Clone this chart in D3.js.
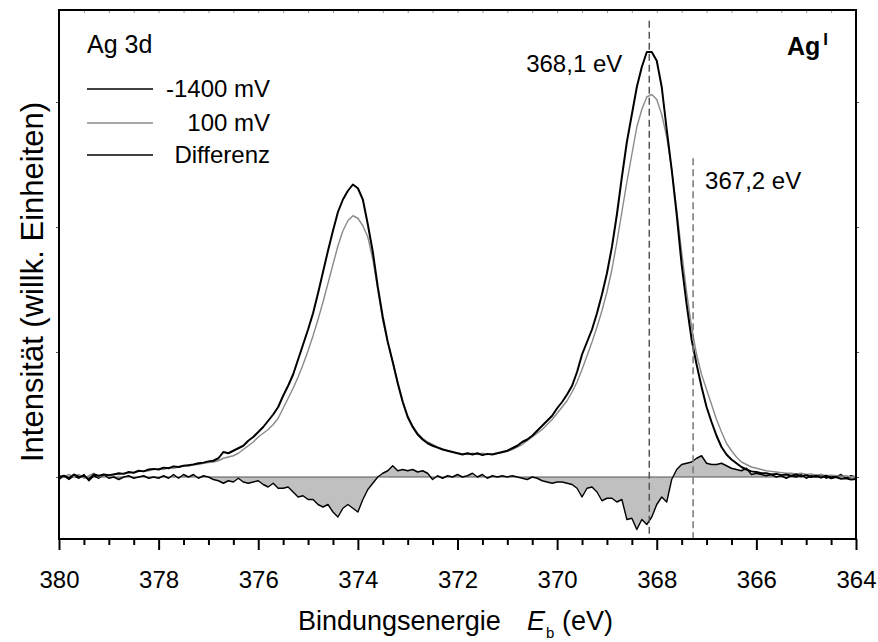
<!DOCTYPE html>
<html><head><meta charset="utf-8">
<script src="https://cdn.jsdelivr.net/npm/d3@7"></script>
<style>
html,body{margin:0;padding:0;background:#fff;}
text{font-family:"Liberation Sans",Arial,Helvetica,sans-serif;fill:#000;}
</style></head>
<body>
<svg id="chart" width="878" height="642"></svg>
<script>
// ---- data (binding energy in eV, intensity in arbitrary units) ----
const energies = [380.0,379.9,379.8,379.7,379.6,379.5,379.4,379.3,379.2,379.1,379.0,378.9,378.8,378.7,378.6,378.5,378.4,378.3,378.2,378.1,378.0,377.9,377.8,377.7,377.6,377.5,377.4,377.3,377.2,377.1,377.0,376.9,376.8,376.7,376.6,376.5,376.4,376.3,376.2,376.1,376.0,375.9,375.8,375.7,375.6,375.5,375.4,375.3,375.2,375.1,375.0,374.9,374.8,374.7,374.6,374.5,374.4,374.3,374.2,374.1,374.0,373.9,373.8,373.7,373.6,373.5,373.4,373.3,373.2,373.1,373.0,372.9,372.8,372.7,372.6,372.5,372.4,372.3,372.2,372.1,372.0,371.9,371.8,371.7,371.6,371.5,371.4,371.3,371.2,371.1,371.0,370.9,370.8,370.7,370.6,370.5,370.4,370.3,370.2,370.1,370.0,369.9,369.8,369.7,369.6,369.5,369.4,369.3,369.2,369.1,369.0,368.9,368.8,368.7,368.6,368.5,368.4,368.3,368.2,368.1,368.0,367.9,367.8,367.7,367.6,367.5,367.4,367.3,367.2,367.1,367.0,366.9,366.8,366.7,366.6,366.5,366.4,366.3,366.2,366.1,366.0,365.9,365.8,365.7,365.6,365.5,365.4,365.3,365.2,365.1,365.0,364.9,364.8,364.7,364.6,364.5,364.4,364.3,364.2,364.1,364.0];

const seriesM1400 = [0.00,0.01,-0.01,0.02,0.00,0.01,-0.02,0.02,0.01,0.02,0.015,0.02,0.03,0.025,0.04,0.035,0.05,0.045,0.06,0.065,0.06,0.075,0.07,0.085,0.08,0.09,0.095,0.10,0.11,0.115,0.125,0.13,0.15,0.20,0.19,0.21,0.23,0.25,0.29,0.32,0.36,0.40,0.45,0.50,0.56,0.65,0.73,0.82,0.94,1.06,1.18,1.31,1.47,1.64,1.81,1.97,2.12,2.22,2.29,2.34,2.31,2.22,2.02,1.80,1.52,1.28,1.08,0.92,0.75,0.60,0.48,0.40,0.34,0.30,0.27,0.25,0.235,0.22,0.21,0.20,0.19,0.18,0.19,0.18,0.19,0.175,0.185,0.18,0.19,0.20,0.21,0.23,0.25,0.28,0.30,0.33,0.37,0.41,0.45,0.49,0.55,0.60,0.66,0.73,0.84,0.98,1.08,1.18,1.31,1.46,1.63,1.84,2.10,2.40,2.68,2.90,3.12,3.28,3.40,3.40,3.33,3.12,2.78,2.46,2.10,1.70,1.38,1.10,0.90,0.72,0.56,0.44,0.33,0.24,0.18,0.14,0.11,0.08,0.06,0.045,0.04,0.03,0.03,0.02,0.025,0.015,0.02,0.01,0.02,0.005,0.015,0.00,0.01,-0.005,0.01,-0.01,0.00,-0.015,-0.01,-0.02,-0.015];

const series100 = [0.01,0.00,0.02,0.00,0.02,-0.01,0.01,0.03,0.00,0.02,0.01,0.025,0.02,0.03,0.035,0.03,0.045,0.05,0.05,0.06,0.065,0.06,0.075,0.07,0.08,0.09,0.085,0.10,0.10,0.11,0.115,0.12,0.13,0.15,0.16,0.17,0.19,0.22,0.25,0.28,0.32,0.35,0.38,0.42,0.47,0.55,0.63,0.71,0.80,0.90,1.01,1.13,1.26,1.40,1.55,1.70,1.85,1.97,2.05,2.09,2.07,2.01,1.92,1.74,1.50,1.25,1.08,0.92,0.76,0.61,0.49,0.41,0.35,0.31,0.28,0.26,0.24,0.225,0.21,0.20,0.19,0.185,0.18,0.19,0.18,0.19,0.18,0.185,0.19,0.195,0.205,0.22,0.24,0.26,0.29,0.32,0.35,0.38,0.42,0.46,0.51,0.56,0.61,0.68,0.76,0.86,0.97,1.08,1.20,1.33,1.48,1.66,1.88,2.12,2.36,2.58,2.80,2.94,3.04,3.06,3.02,2.90,2.72,2.46,2.14,1.80,1.48,1.20,0.98,0.82,0.70,0.58,0.46,0.36,0.27,0.21,0.16,0.12,0.10,0.08,0.07,0.06,0.05,0.045,0.04,0.035,0.03,0.03,0.025,0.03,0.02,0.025,0.015,0.02,0.01,0.015,0.01,0.005,0.01,0.00,0.005];

const seriesDiff = [-0.02,0.01,-0.02,0.01,-0.01,0.02,-0.03,0.01,-0.01,0.02,-0.01,0.00,-0.02,0.00,0.01,-0.01,0.00,0.01,-0.01,0.00,-0.01,0.01,-0.01,0.02,-0.01,0.02,0.00,0.02,-0.01,0.01,0.00,-0.02,-0.03,-0.05,-0.03,-0.04,-0.01,-0.04,-0.05,-0.04,-0.03,-0.06,-0.08,-0.05,-0.09,-0.09,-0.08,-0.12,-0.16,-0.15,-0.18,-0.18,-0.22,-0.24,-0.22,-0.28,-0.32,-0.25,-0.22,-0.25,-0.28,-0.18,-0.10,-0.05,0.00,0.03,0.05,0.09,0.05,0.06,0.05,0.06,0.04,0.05,0.03,-0.02,0.01,-0.01,0.01,0.00,0.02,0.00,0.01,0.03,0.00,0.02,-0.01,0.01,0.00,0.01,0.00,0.01,0.00,-0.01,-0.02,0.00,-0.01,-0.03,-0.04,-0.05,-0.04,-0.04,-0.05,-0.06,-0.09,-0.16,-0.09,-0.08,-0.12,-0.19,-0.17,-0.17,-0.20,-0.18,-0.34,-0.33,-0.42,-0.34,-0.38,-0.32,-0.22,-0.16,-0.20,-0.02,0.06,0.10,0.11,0.12,0.15,0.17,0.11,0.10,0.10,0.11,0.09,0.07,0.06,0.05,0.07,0.02,0.03,0.02,0.01,0.02,0.00,0.01,-0.01,0.01,0.00,0.02,-0.01,0.01,0.00,0.02,-0.01,0.01,0.00,0.02,-0.01,0.01,0.00];

const majorTicks = [380,378,376,374,372,370,368,366,364];
const minorTicks = [379.5,379,378.5,377.5,377,376.5,375.5,375,374.5,373.5,373,372.5,371.5,371,370.5,369.5,369,368.5,367.5,367,366.5,365.5,365,364.5];
const yTicks = [0,1,2,3];
const markerEnergies = [368.15, 367.27];
const markerTops = [3.65, 2.55];
const markerColors = ["#555", "#777"];
const markerLabels = ["368,1 eV", "367,2 eV"];
const legendLabels = ["-1400 mV", "100 mV", "Differenz"];

// ---- layout ----
const L = 59, R = 856, T = 10, B = 539;
const svg = d3.select("#chart");
const x = d3.scaleLinear().domain([380, 364]).range([L, R]);
const y = d3.scaleLinear().domain([-0.496, 3.736]).range([B, T]);

svg.append("defs").append("clipPath").attr("id","clip")
  .append("rect").attr("x",L).attr("y",T).attr("width",R-L).attr("height",B-T);

const plot = svg.append("g").attr("clip-path","url(#clip)");
const idx = d3.range(energies.length);

// difference area
plot.append("path")
  .attr("d", d3.area().x(i=>x(energies[i])).y0(y(0)).y1(i=>y(seriesDiff[i]))(idx))
  .attr("fill","#c0c0c0");
plot.append("line").attr("x1",L).attr("x2",R).attr("y1",y(0)).attr("y2",y(0))
  .attr("stroke","#555").attr("stroke-width",1);

const line = s => d3.line().x(i=>x(energies[i])).y(i=>y(s[i]))(idx);
plot.append("path").attr("d", line(seriesDiff)).attr("fill","none")
  .attr("stroke","#000").attr("stroke-width",1.4).attr("stroke-linejoin","round");
plot.append("path").attr("d", line(series100)).attr("fill","none")
  .attr("stroke","#8a8a8a").attr("stroke-width",1.4).attr("stroke-linejoin","round");
plot.append("path").attr("d", line(seriesM1400)).attr("fill","none")
  .attr("stroke","#000").attr("stroke-width",2).attr("stroke-linejoin","round");

// dashed markers
markerEnergies.forEach((e,k)=>{
  svg.append("line").attr("x1",x(e)).attr("x2",x(e)).attr("y1",y(markerTops[k])).attr("y2",B)
    .attr("stroke",markerColors[k]).attr("stroke-width",1.5).attr("stroke-dasharray","7,4");
});
svg.append("text").attr("x",x(markerEnergies[0])-27).attr("y",72).attr("text-anchor","end")
  .attr("font-size",24).text(markerLabels[0]);
svg.append("text").attr("x",x(markerEnergies[1])+12).attr("y",189).attr("text-anchor","start")
  .attr("font-size",24).text(markerLabels[1]);

// axes
const gMaj = svg.append("g").attr("transform",`translate(0,${B})`)
  .call(d3.axisBottom(x).tickValues(majorTicks).tickSize(11).tickPadding(21).tickFormat(d3.format("d")));
const gMin = svg.append("g").attr("transform",`translate(0,${B})`)
  .call(d3.axisBottom(x).tickValues(minorTicks).tickSize(6).tickFormat(""));
const gTop = svg.append("g").attr("transform",`translate(0,${T})`)
  .call(d3.axisTop(x).tickValues(majorTicks.concat(minorTicks)).tickSize(-3).tickFormat(""));
const gLeft = svg.append("g").attr("transform",`translate(${L},0)`)
  .call(d3.axisLeft(y).tickValues(yTicks).tickSize(3).tickFormat(""));
const gRight = svg.append("g").attr("transform",`translate(${R},0)`)
  .call(d3.axisRight(y).tickValues(yTicks).tickSize(3).tickFormat(""));
[gMaj,gMin,gTop,gLeft,gRight].forEach(g=>g.select(".domain").remove());
gMaj.selectAll("line").attr("stroke","#000").attr("stroke-width",2);
gMin.selectAll("line").attr("stroke","#000").attr("stroke-width",2);
gTop.selectAll("line").attr("stroke","#999").attr("stroke-width",1);
gLeft.selectAll("line").attr("stroke","#555").attr("stroke-width",1);
gRight.selectAll("line").attr("stroke","#555").attr("stroke-width",1);
gMaj.selectAll("text").attr("font-size",24).attr("font-family","Liberation Sans, Arial, sans-serif").attr("fill","#000");

// frame
svg.append("rect").attr("x",L).attr("y",T).attr("width",R-L).attr("height",B-T)
  .attr("fill","none").attr("stroke","#000").attr("stroke-width",2);

// legend
svg.append("text").attr("x",87).attr("y",53).attr("font-size",25).text("Ag 3d");
const legY = [89,123,155];
const legCol = ["#000","#8a8a8a","#000"];
legendLabels.forEach((t,k)=>{
  svg.append("line").attr("x1",87).attr("x2",153).attr("y1",legY[k]).attr("y2",legY[k])
    .attr("stroke",legCol[k]).attr("stroke-width",1.4);
  svg.append("text").attr("x",270).attr("y",legY[k]+8).attr("text-anchor","end")
    .attr("font-size",24).text(t);
});

// Ag^I label
const agT = svg.append("text").attr("x",787).attr("y",55).attr("font-size",25).attr("font-weight","bold");
agT.append("tspan").text("Ag");
agT.append("tspan").attr("font-size",17).attr("dx",3).attr("dy",-10).text("I");

// axis titles
svg.append("text").attr("transform","translate(43,282) rotate(-90)").attr("text-anchor","middle")
  .attr("font-size",31).text("Intensität (willk. Einheiten)");
const xt = svg.append("text").attr("y",630).attr("font-size",27);
xt.append("tspan").attr("x",298).text("Bindungsenergie");
xt.append("tspan").attr("x",527).attr("font-style","italic").text("E");
xt.append("tspan").attr("x",546).attr("dy",8).attr("font-size",15).text("b");
xt.append("tspan").attr("x",562).attr("dy",-8).text("(eV)");
</script>
</body></html>
